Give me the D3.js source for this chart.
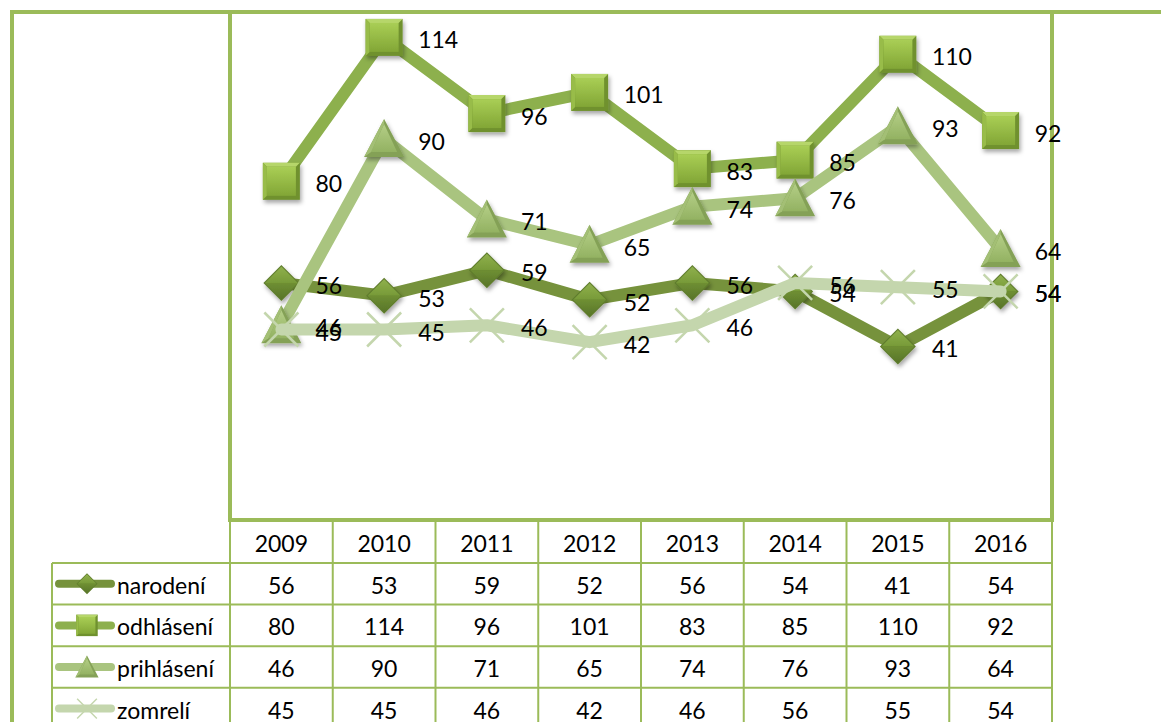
<!DOCTYPE html>
<html><head><meta charset="utf-8">
<script src="https://cdn.jsdelivr.net/npm/d3@7"></script>
<style>
html,body{margin:0;padding:0;background:#fff;}
svg{display:block;}
text{font-family:Lato,"Open Sans",sans-serif;fill:#000;}
</style></head>
<body>
<svg id="chart" width="1161" height="722"></svg>
<script>
const years = ["2009","2010","2011","2012","2013","2014","2015","2016"];
const seriesNames = ["narodení","odhlásení","prihlásení","zomrelí"];
const narodeni = [56,53,59,52,56,54,41,54];
const odhlaseni = [80,114,96,101,83,85,110,92];
const prihlaseni = [46,90,71,65,74,76,93,64];
const zomreli = [45,45,46,42,46,56,55,54];
const yDomain = [0,120];

const seriesValues = [narodeni, odhlaseni, prihlaseni, zomreli];
const lineColors = ["#76923C","#8DB04D","#A9C47F","#C4D6AD"];
const markerTypes = ["diamond","square","triangle","x"];

const svg = d3.select("#chart");
const W = 1161, H = 722;
const plot = {left:230, right:1052, top:12, bottom:520};
const tableLeft = 52;
const rowH = 41.6;
const headerTop = 521, headerBottom = 563;

const x = d3.scaleBand().domain(years).range([plot.left, plot.right]).padding(0);
const y = d3.scaleLinear().domain(yDomain).range([plot.bottom, plot.top]);
const cx = d => x(d) + x.bandwidth()/2;

const defs = svg.append("defs");
const f = defs.append("filter").attr("id","sh").attr("x","-50%").attr("y","-50%").attr("width","200%").attr("height","200%");
f.append("feDropShadow").attr("dx",1.5).attr("dy",3).attr("stdDeviation",2).attr("flood-color","#000").attr("flood-opacity",0.35);
function grad(id, c1, c2){
  const g = defs.append("linearGradient").attr("id",id).attr("x1",0).attr("y1",0).attr("x2",0).attr("y2",1);
  g.append("stop").attr("offset","0%").attr("stop-color",c1);
  g.append("stop").attr("offset","100%").attr("stop-color",c2);
}
grad("gSq","#A9CE55","#82A636");
grad("gTri","#B4CE86","#93B262");
grad("gDiaT","#8FB04C","#779A38");
grad("gDiaB","#6F8F32","#58752A");

function drawMarker(g, type, s){
  if(type==="diamond"){
    const r = 18*s;
    g.append("path").attr("d",`M0,${-r}L${r},0L0,${r}L${-r},0Z`).attr("fill","#5E7B2C");
    g.append("path").attr("d",`M0,${-r+1.5*s}L${r-1.5*s},0L${-r+1.5*s},0Z`).attr("fill","url(#gDiaT)");
    g.append("path").attr("d",`M${-r+1.5*s},0L${r-1.5*s},0L0,${r-1.5*s}Z`).attr("fill","url(#gDiaB)");
  } else if(type==="square"){
    const r = 18.5*s;
    g.append("rect").attr("x",-r).attr("y",-r).attr("width",2*r).attr("height",2*r).attr("fill","#6F912E");
    g.append("path").attr("d",`M${-r},${-r}L${r},${-r}L${r-4*s},${-r+4*s}L${-r+4*s},${-r+4*s}Z`).attr("fill","#B6D66A");
    g.append("path").attr("d",`M${-r},${-r}L${-r+4*s},${-r+4*s}L${-r+4*s},${r-4*s}L${-r},${r}Z`).attr("fill","#98BC48");
    g.append("rect").attr("x",-r+4*s).attr("y",-r+4*s).attr("width",2*r-8*s).attr("height",2*r-8*s).attr("fill","url(#gSq)");
  } else if(type==="triangle"){
    const w = 20*s, t = 20*s, b = 18*s;
    g.append("path").attr("d",`M0,${-t}L${w},${b}L${-w},${b}Z`).attr("fill","#84A157");
    g.append("path").attr("d",`M0,${-t+5*s}L${w-7*s},${b-5*s}L${-w+7*s},${b-5*s}Z`).attr("fill","url(#gTri)");
    g.append("path").attr("d",`M0,${-t}L0,${-t+5*s}L${-w+7*s},${b-5*s}L${-w},${b}Z`).attr("fill","#A3BF74");
  } else {
    const r = 17*s;
    g.append("path").attr("d",`M${-r},${-r}L${r},${r}M${r},${-r}L${-r},${r}`)
      .attr("stroke","#C4D6AD").attr("stroke-width",2.5*s).attr("fill","none");
  }
}

const green = "#9BBB59";

// series lines and markers
const line = d3.line().x((v,i)=>cx(years[i])).y(v=>y(v));
seriesValues.forEach((vals, si) => {
  const g = svg.append("g");
  g.append("path").attr("d", line(vals)).attr("fill","none")
    .attr("stroke", lineColors[si]).attr("stroke-width",12)
    .attr("stroke-linejoin","round").attr("stroke-linecap","round");
  vals.forEach((v,i) => {
    const mg = g.append("g").attr("transform",`translate(${cx(years[i])},${y(v)})`);
    if(markerTypes[si]!=="x") mg.attr("filter","url(#sh)");
    drawMarker(mg, markerTypes[si], 1);
  });
});

// borders
svg.append("line").attr("x1",10).attr("x2",W).attr("y1",12).attr("y2",12).attr("stroke",green).attr("stroke-width",4);
svg.append("line").attr("x1",12).attr("x2",12).attr("y1",10).attr("y2",H).attr("stroke",green).attr("stroke-width",4);
svg.append("rect").attr("x",plot.left).attr("y",plot.top).attr("width",plot.right-plot.left).attr("height",plot.bottom-plot.top)
  .attr("fill","none").attr("stroke",green).attr("stroke-width",4);

// data labels (on top of borders)
seriesValues.forEach((vals, si) => {
  vals.forEach((v,i) => {
    svg.append("text").attr("x", cx(years[i]) + 34).attr("y", y(v) + 2)
      .attr("dominant-baseline","central").attr("font-size",23).text(v);
  });
});

// data table
const tg = svg.append("g");
const rowTops = seriesNames.map((n,i)=>headerBottom + i*rowH);
const gl = "#9BBB59";
years.forEach((yr,i)=>{
  tg.append("line").attr("x1",x(yr)).attr("x2",x(yr)).attr("y1",headerTop).attr("y2",H).attr("stroke",gl).attr("stroke-width",2);
});
tg.append("line").attr("x1",plot.right).attr("x2",plot.right).attr("y1",headerTop).attr("y2",H).attr("stroke",gl).attr("stroke-width",2);
tg.append("line").attr("x1",tableLeft).attr("x2",tableLeft).attr("y1",headerBottom).attr("y2",H).attr("stroke",gl).attr("stroke-width",2);
rowTops.forEach(t=>{
  tg.append("line").attr("x1",tableLeft).attr("x2",plot.right).attr("y1",t).attr("y2",t).attr("stroke",gl).attr("stroke-width",2);
});
tg.append("line").attr("x1",tableLeft).attr("x2",plot.right).attr("y1",headerBottom+4*rowH).attr("y2",headerBottom+4*rowH).attr("stroke",gl).attr("stroke-width",2);

years.forEach(yr => {
  tg.append("text").attr("x",cx(yr)).attr("y",(headerTop+headerBottom)/2+1).attr("text-anchor","middle")
    .attr("dominant-baseline","central").attr("font-size",23).text(yr);
});
seriesNames.forEach((n,si) => {
  const top = rowTops[si], mid = top + rowH/2;
  seriesValues[si].forEach((v,i)=>{
    tg.append("text").attr("x",cx(years[i])).attr("y",mid+1).attr("text-anchor","middle")
      .attr("dominant-baseline","central").attr("font-size",23).text(v);
  });
  tg.append("line").attr("x1",59).attr("x2",111).attr("y1",mid).attr("y2",mid)
    .attr("stroke",lineColors[si]).attr("stroke-width",8).attr("stroke-linecap","round");
  const mg = tg.append("g").attr("transform",`translate(87,${mid})`);
  drawMarker(mg, markerTypes[si], 0.58);
  tg.append("text").attr("x",117).attr("y",mid+1).attr("dominant-baseline","central").attr("font-size",23).text(n);
});
</script>
</body></html>
